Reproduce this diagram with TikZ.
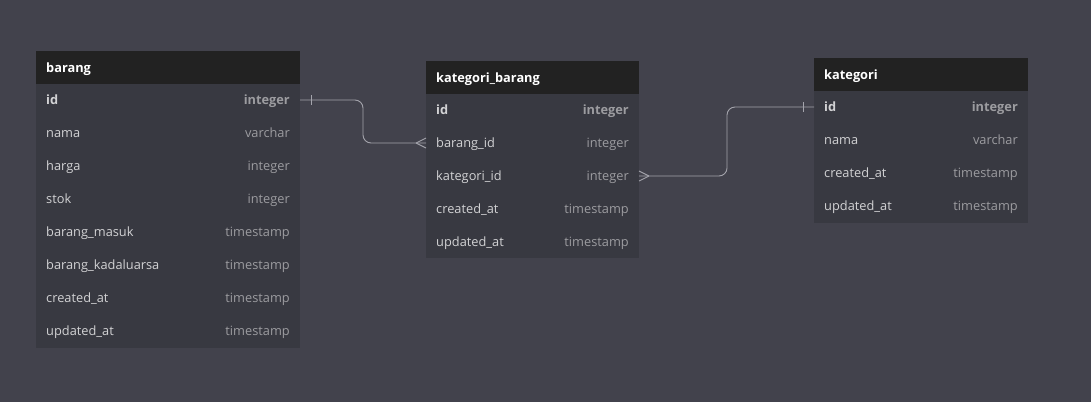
\documentclass[tikz,border=0pt]{standalone}
\usepackage{fontspec}
\setmainfont{Open Sans}
\usetikzlibrary{arrows.meta}
\definecolor{bg}{HTML}{42424C}
\definecolor{body}{HTML}{383941}
\definecolor{head}{HTML}{222222}
\definecolor{fname}{HTML}{D2D2D4}
\definecolor{ftype}{HTML}{9C9CA0}
\definecolor{link}{HTML}{A4A4AC}
\tikzset{
  fld/.style={anchor=base west, yshift=-5.3pt, text=fname, font=\fontsize{12.8}{15}\selectfont, inner sep=0pt},
  fldb/.style={fld, font=\fontsize{12.8}{15}\selectfont\bfseries},
  typ/.style={anchor=base east, yshift=-5.3pt, text=ftype, font=\fontsize{12.8}{15}\selectfont, inner sep=0pt},
  typb/.style={typ, font=\fontsize{12.8}{15}\selectfont\bfseries},
  ttl/.style={anchor=base west, yshift=-5.3pt, text=white, font=\fontsize{12.8}{15}\selectfont\bfseries, inner sep=0pt},
  rel/.style={draw=link, line width=0.9pt, rounded corners=8pt},
}
\begin{document}
\begin{tikzpicture}[x=1pt,y=-1pt]
\fill[bg] (0,0) rectangle (1091,402);
\useasboundingbox (0,0) rectangle (1091,402);
% barang
\fill[body] (36,84) rectangle (300,348);
\fill[head] (36,51) rectangle (300,84);
\node[ttl] (t1) at (46,67) {barang};
\node[fldb] (b1) at (46,99) {id}; \node[typb] (b1t) at (290,99) {integer};
\node[fld] (b2) at (46,132) {nama}; \node[typ] at (290,132) {varchar};
\node[fld] (b3) at (46,165) {harga}; \node[typ] at (290,165) {integer};
\node[fld] (b4) at (46,198) {stok}; \node[typ] at (290,198) {integer};
\node[fld] (b5) at (46,231) {barang\_masuk}; \node[typ] at (290,231) {timestamp};
\node[fld] (b6) at (46,264) {barang\_kadaluarsa}; \node[typ] at (290,264) {timestamp};
\node[fld] (b7) at (46,297) {created\_at}; \node[typ] at (290,297) {timestamp};
\node[fld] (b8) at (46,330) {updated\_at}; \node[typ] at (290,330) {timestamp};
\coordinate (bid) at (300,100);
% kategori_barang
\fill[body] (426,94) rectangle (639,258);
\fill[head] (426,61) rectangle (639,94);
\node[ttl] (t2) at (436,77) {kategori\_barang};
\node[fldb] (k1) at (436,109) {id}; \node[typb] at (629,109) {integer};
\node[fld] (k2) at (436,142) {barang\_id}; \node[typ] at (629,142) {integer};
\node[fld] (k3) at (436,175) {kategori\_id}; \node[typ] at (629,175) {integer};
\node[fld] (k4) at (436,208) {created\_at}; \node[typ] at (629,208) {timestamp};
\node[fld] (k5) at (436,241) {updated\_at}; \node[typ] at (629,241) {timestamp};
\coordinate (kbb) at (426,143);
\coordinate (kbk) at (639,176);
% kategori
\fill[body] (814,91) rectangle (1028,223);
\fill[head] (814,58) rectangle (1028,91);
\node[ttl] (t3) at (824,74) {kategori};
\node[fldb] (c1) at (824,106) {id}; \node[typb] at (1018,106) {integer};
\node[fld] (c2) at (824,139) {nama}; \node[typ] at (1018,139) {varchar};
\node[fld] (c3) at (824,172) {created\_at}; \node[typ] at (1018,172) {timestamp};
\node[fld] (c4) at (824,205) {updated\_at}; \node[typ] at (1018,205) {timestamp};
\coordinate (kid) at (814,107);
% relation 1
\draw[rel] (bid) -| (363,143) -- (kbb);
\draw[draw=link, line width=0.9pt] (311,95) -- (311,105);
\draw[draw=link, line width=0.9pt] (416,143) -- (426,138) (416,143) -- (426,148);
% relation 2
\draw[rel] (kbk) -| (727,107) -- (kid);
\draw[draw=link, line width=0.9pt] (803,102) -- (803,112);
\draw[draw=link, line width=0.9pt] (649,176) -- (639,171) (649,176) -- (639,181);
\end{tikzpicture}
\end{document}
